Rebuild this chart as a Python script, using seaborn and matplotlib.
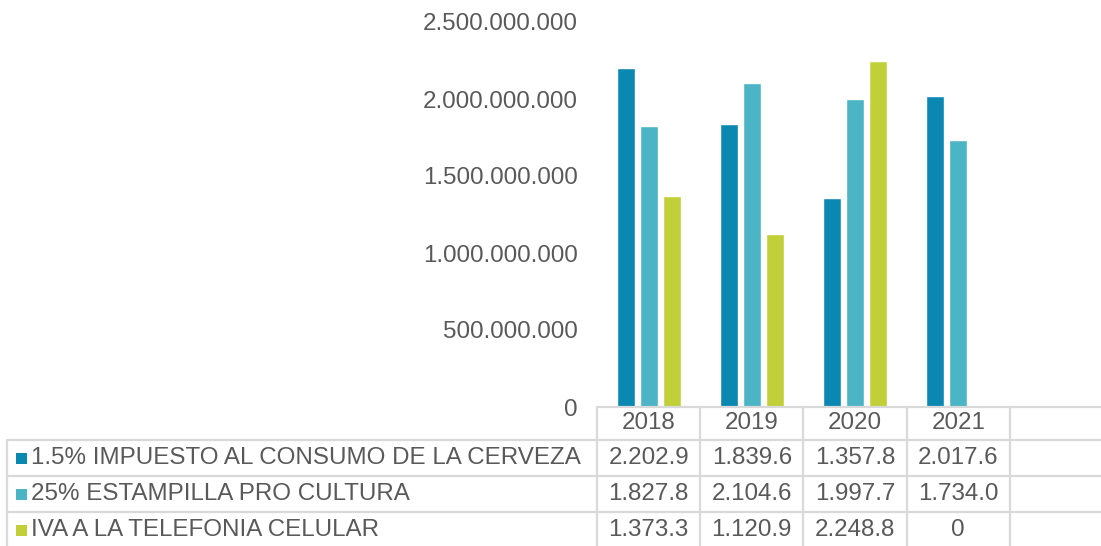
import numpy as np
import pandas as pd
import matplotlib
matplotlib.use("Agg")
from matplotlib import pyplot as plt
from matplotlib import transforms
from matplotlib.lines import Line2D
from matplotlib.patches import Rectangle
import seaborn as sns

# datos (millones)
anios = ["2018", "2019", "2020", "2021"]
series = ["1.5% IMPUESTO AL CONSUMO DE LA CERVEZA",
          "25% ESTAMPILLA PRO CULTURA",
          "IVA A LA TELEFONIA CELULAR"]
cerveza = [2202.9, 1839.6, 1357.8, 2017.6]
estampilla = [1827.8, 2104.6, 1997.7, 1734.0]
iva = [1373.3, 1120.9, 2248.8, 0]
colores = ["#0b88b2", "#4bb5c6", "#c1cf38"]
yticks = [0, 500000000, 1000000000, 1500000000, 2000000000, 2500000000]

valores = [cerveza, estampilla, iva]
df = pd.DataFrame({
    "anio": anios * 3,
    "serie": np.repeat(series, len(anios)),
    "valor": np.concatenate(valores) * 1e6,
})

sns.set_style("white")
plt.rcParams["font.family"] = ["Liberation Sans", "DejaVu Sans"]
gris = "#595959"
linea = "#d9d9d9"
fs = 17.4

W, H = 1101, 546
fig = plt.figure(figsize=(W / 100, H / 100), dpi=100)

def fx(x):
    return x / W

def fy(y):
    return 1 - y / H

col_w = 103.2
ax = fig.add_axes([fx(597), fy(407), fx(5 * col_w), fy(22) - fy(407)])
sns.barplot(data=df, x="anio", y="valor", hue="serie", order=anios,
            hue_order=series, palette=colores, width=0.67, gap=0.22,
            saturation=1, legend=False, ax=ax)
ax.set_xlim(-0.5, 4.5)
ax.set_ylim(0, 2.5e9)
ax.set_yticks(yticks)
ax.set_yticklabels([f"{v:,}".replace(",", ".") for v in yticks],
                   fontsize=fs, color=gris)
ax.tick_params(axis="y", length=0, pad=14)
ax.set_xticks([])
ax.set_xlabel("")
ax.set_ylabel("")
for s in ax.spines.values():
    s.set_visible(False)

# tabla de datos
tr = transforms.blended_transform_factory(ax.transData, fig.transFigure)
bordes = [i - 0.5 for i in range(5)]

def hline(y, x0):
    fig.add_artist(Line2D([fx(x0), 1], [fy(y), fy(y)], color=linea, lw=1.6,
                          transform=fig.transFigure))

hline(407, 597)
for y in [440, 476, 512]:
    hline(y, 7)
fig.add_artist(Line2D([fx(7), fx(7)], [fy(440), 0], color=linea, lw=1.6,
                      transform=fig.transFigure))
for b in bordes:
    fig.add_artist(Line2D([b, b], [fy(407), 0], color=linea, lw=1.6,
                          transform=tr))

for i, a in enumerate(anios):
    fig.text(i, fy(423), a, transform=tr, ha="center", va="center",
             fontsize=fs, color=gris)

def fmt(v):
    if v == 0:
        return "0"
    return f"{v:,.1f}".replace(",", ".")

filas_y = [458, 494, 530]
for serie, vals, c, yc in zip(series, valores, colores, filas_y):
    fig.add_artist(Rectangle((fx(16), fy(yc + 5.5)), fx(11), fy(yc - 5.5) - fy(yc + 5.5),
                             facecolor=c, edgecolor="none",
                             transform=fig.transFigure))
    fig.text(fx(31), fy(yc), serie, ha="left", va="center",
             fontsize=fs, color=gris)
    for i, v in enumerate(vals):
        fig.text(i, fy(yc), fmt(v), transform=tr, ha="center", va="center",
                 fontsize=fs, color=gris)

fig.savefig("out.png", dpi=100)
